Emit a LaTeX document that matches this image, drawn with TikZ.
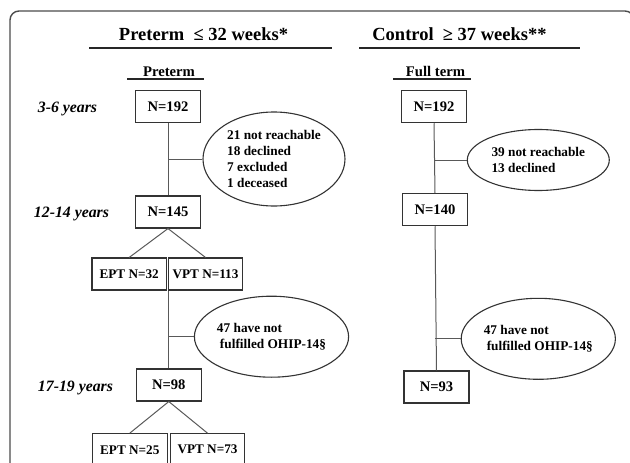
\documentclass[tikz,border=0pt]{standalone}
\usepackage{fontspec}
\setmainfont{Liberation Serif}
\usetikzlibrary{shapes.geometric}
\begin{document}
\begin{tikzpicture}[x=1pt,y=-1pt,
	nbox/.style={draw=black!80,line width=1.1pt,minimum width=65pt,minimum height=32pt,inner sep=0pt,font=\fontsize{14.6}{16}\selectfont\bfseries},
	gbox/.style={nbox,minimum width=74.5pt,font=\fontsize{13.2}{16}\selectfont\bfseries},
	drop/.style={draw=black!80,line width=1.1pt,ellipse,minimum width=142pt,inner sep=0pt,align=left,font=\fontsize{13.3}{16}\selectfont\bfseries},
	link/.style={draw=black!65,line width=1pt},
	rule/.style={draw=black!85,line width=1.7pt},
	head/.style={anchor=base,font=\fontsize{18.5}{20}\selectfont\bfseries},
	sub/.style={anchor=base,font=\fontsize{14.7}{16}\selectfont\bfseries},
	age/.style={anchor=base,font=\fontsize{15.8}{18}\selectfont\bfseries\itshape}]
	\clip(0,0)rectangle(630,463);
	\draw[draw=black!70,line width=1.4pt,rounded corners=9pt](10,11)rectangle(634,480);
	% headings
	\node[head](tpre) at(203.5,40){Preterm\ \ ≤ 32 weeks*};
	\node[head](tcon) at(459.5,40){Control\ \ ≥ 37 weeks**};
	\draw[rule](89,48)--(332,48);
	\draw[rule](359,48)--(579.5,48);
	\node[sub](spre) at(169,76){Preterm};
	\node[sub](sful) at(435.5,76){Full term};
	\draw[rule,line width=1.3pt](127,79)--(204,79);
	\draw[rule,line width=1.3pt](393,79)--(471,79);
	% ages
	\node[age](a1) at(67.5,112){3-6 years};
	\node[age](a2) at(71.5,217){12-14 years};
	\node[age](a3) at(75.5,391){17-19 years};
	% preterm column
	\node[nbox](p192) at(168,106.7){N=192};
	\node[nbox](p145) at(168,212){N=145};
	\node[gbox](ept32) at(129.2,274){EPT N=32};
	\node[gbox](vpt113) at(205.5,274){VPT N=113};
	\node[nbox](p98) at(168.8,385){N=98};
	\node[gbox](ept25) at(129.8,449.7){EPT N=25};
	\node[gbox](vpt73) at(207.5,449.7){VPT N=73};
	\node[drop,minimum height=94pt](e1) at(274,159){21 not reachable\\18 declined\\7 excluded\\1 deceased};
	\node[drop,minimum height=81pt](e2) at(271.5,336.7){47 have not\\\hspace*{3pt}fulfilled OHIP-14§};
	% control column
	\node[nbox](c192) at(434,106.7){N=192};
	\node[nbox](c140) at(435,209.7){N=140};
	\node[nbox](c93) at(436.5,387){N=93};
	\node[drop,minimum height=61pt](e3) at(538.3,160){39 not reachable\\13 declined};
	\node[drop,minimum height=81pt](e4) at(538.3,338.8){47 have not\\\hspace*{3pt}fulfilled OHIP-14§};
	% links
	\draw[link](p192.south)--(p145.north);
	\draw[link](e1.west)--(e1.west-|p192.south);
	\draw[link](p145.south)--(ept32.north);
	\draw[link](p145.south)--(vpt113.north);
	\draw[link](p98.north|-vpt113.south)--(p98.north);
	\draw[link](e2.west)--(e2.west-|p98.north);
	\draw[link](p98.south)--(ept25.north);
	\draw[link](p98.south)--(vpt73.north);
	\draw[link](c192.south)--(c140.north);
	\draw[link](e3.west)--(e3.west-|c192.south);
	\draw[link](c140.south)--(c93.north);
	\draw[link](e4.west)--(e4.west-|c140.south);
\end{tikzpicture}
\end{document}
